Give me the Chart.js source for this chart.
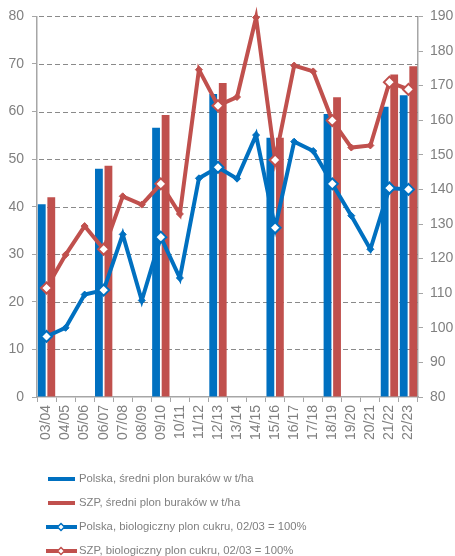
<!DOCTYPE html>
<html>
<head>
<meta charset="utf-8">
<script src="https://cdn.jsdelivr.net/npm/chart.js@4"></script>
<style>
  html, body { margin: 0; padding: 0; background: #fff; }
</style>
</head>
<body>
<canvas id="chart" width="455" height="556"></canvas>
<script>
// Seasons on the x-axis
const seasons = ["03/04", "04/05", "05/06", "06/07", "07/08", "08/09", "09/10", "10/11", "11/12", "12/13",
  "13/14", "14/15", "15/16", "16/17", "17/18", "18/19", "19/20", "20/21", "21/22", "22/23"];

// Average beet yield in t/ha (left axis), only some seasons shown
const polskaYield = [40.5, null, null, 48.0, null, null, 56.6, null, null, 63.7,
  null, null, 54.5, null, null, 59.5, null, null, 61.0, 63.4];
const szpYield = [42.0, null, null, 48.6, null, null, 59.3, null, null, 66.0,
  null, null, 54.5, null, null, 63.0, null, null, 67.8, 69.5];

// Biological sugar yield, 02/03 = 100% (right axis)
const polskaSugar = [97.5, 100.0, 109.6, 110.9, 127.0, 107.9, 126.2, 114.4, 143.2, 146.4,
  143.1, 155.7, 128.9, 153.8, 151.1, 141.6, 132.4, 122.7, 140.4, 140.0];
const szpSugar = [111.5, 121.1, 129.4, 122.7, 138.0, 135.6, 141.6, 132.9, 174.6, 164.2,
  166.7, 189.7, 148.5, 175.8, 174.1, 159.9, 152.1, 152.7, 171.0, 168.9];

const leftTicks = { min: 0, max: 80, step: 10 };
const rightTicks = { min: 80, max: 190, step: 10 };

const BLUE = '#0070C0';
const RED = '#C0504D';
const GREY_TXT = '#808080';
const AXIS = '#a6a6a6';
const FONT = '"Liberation Sans", Arial, sans-serif';

// hollow diamonds where a bar is shown, small filled ones elsewhere
const hollow = polskaYield.map(v => v !== null);
function pointOpts(color) {
  return {
    pointStyle: 'rectRot',
    pointRadius: hollow.map(h => h ? 5.5 : 3.5),
    pointBackgroundColor: hollow.map(h => h ? '#ffffff' : color),
    pointBorderColor: color,
    pointBorderWidth: hollow.map(h => h ? 2 : 1)
  };
}

// dashed horizontal grid lines at the left axis ticks (dashes drawn one by one)
const dashedGrid = {
  id: 'dashedGrid',
  beforeDatasetsDraw(chart) {
    const { ctx, chartArea } = chart;
    const scale = chart.scales.y;
    ctx.save();
    ctx.fillStyle = '#8a8a8a';
    scale.ticks.forEach(t => {
      const y = Math.round(scale.getPixelForValue(t.value));
      if (t.value === leftTicks.min) return;
      for (let x = chartArea.left + 2; x < chartArea.right; x += 8) {
        ctx.fillRect(x, y, Math.min(5, chartArea.right - x), 1);
      }
    });
    ctx.restore();
  }
};

// legend stacked one item per line under the chart
const stackLegend = {
  id: 'stackLegend',
  afterDraw(chart) {
    const ctx = chart.ctx;
    const rows = [479, 503, 527, 551];
    ctx.save();
    ctx.font = '11.3px ' + FONT;
    ctx.textBaseline = 'middle';
    ctx.textAlign = 'left';
    chart.data.datasets.forEach((ds, i) => {
      const y = rows[i];
      ctx.lineWidth = 4;
      if (ds.type === 'line') {
        ctx.strokeStyle = ds.borderColor;
        ctx.beginPath();
        ctx.moveTo(46, y);
        ctx.lineTo(77, y);
        ctx.stroke();
        ctx.lineWidth = 1.5;
        ctx.fillStyle = '#fff';
        ctx.beginPath();
        ctx.moveTo(61, y - 3.5);
        ctx.lineTo(64.5, y);
        ctx.lineTo(61, y + 3.5);
        ctx.lineTo(57.5, y);
        ctx.closePath();
        ctx.fill();
        ctx.stroke();
      } else {
        ctx.strokeStyle = ds.backgroundColor;
        ctx.beginPath();
        ctx.moveTo(48, y);
        ctx.lineTo(75, y);
        ctx.stroke();
      }
      ctx.fillStyle = GREY_TXT;
      ctx.fillText(ds.label, 79, y);
    });
    ctx.restore();
  }
};

const ctx = document.getElementById('chart').getContext('2d');
new Chart(ctx, {
  data: {
    labels: seasons,
    datasets: [
      {
        type: 'bar',
        label: 'Polska, średni plon buraków w t/ha',
        data: polskaYield,
        backgroundColor: BLUE,
        yAxisID: 'y',
        order: 2,
        barPercentage: 0.82,
        categoryPercentage: 1.0
      },
      {
        type: 'bar',
        label: 'SZP, średni plon buraków w t/ha',
        data: szpYield,
        backgroundColor: RED,
        yAxisID: 'y',
        order: 2,
        barPercentage: 0.82,
        categoryPercentage: 1.0
      },
      Object.assign({
        type: 'line',
        label: 'Polska, biologiczny plon cukru, 02/03 = 100%',
        data: polskaSugar,
        borderColor: BLUE,
        borderWidth: 4,
        tension: 0,
        yAxisID: 'y1',
        order: 0,
        clip: false
      }, pointOpts(BLUE)),
      Object.assign({
        type: 'line',
        label: 'SZP, biologiczny plon cukru, 02/03 = 100%',
        data: szpSugar,
        borderColor: RED,
        borderWidth: 4,
        tension: 0,
        yAxisID: 'y1',
        order: 1,
        clip: false
      }, pointOpts(RED))
    ]
  },
  options: {
    responsive: false,
    animation: false,
    devicePixelRatio: 1,
    layout: { padding: { top: 14, right: 0, bottom: 114, left: 0 } },
    plugins: {
      legend: { display: false },
      tooltip: { enabled: false }
    },
    scales: {
      x: {
        grid: { display: true, drawOnChartArea: false, tickLength: 5, color: AXIS, offset: true },
        border: { color: AXIS, width: 1.5 },
        ticks: { minRotation: 90, maxRotation: 90, autoSkip: false, color: GREY_TXT, padding: 3,
          font: { size: 14, family: FONT } },
        afterFit: s => { s.height = 45; }
      },
      y: {
        position: 'left',
        min: leftTicks.min,
        max: leftTicks.max,
        ticks: { stepSize: leftTicks.step, color: GREY_TXT, padding: 8, font: { size: 14, family: FONT } },
        grid: { drawOnChartArea: false, tickLength: 5, color: AXIS },
        border: { color: AXIS, width: 1.5 },
        afterFit: s => { s.width = 37; }
      },
      y1: {
        position: 'right',
        min: rightTicks.min,
        max: rightTicks.max,
        ticks: { stepSize: rightTicks.step, color: GREY_TXT, padding: 7, font: { size: 14, family: FONT } },
        grid: { drawOnChartArea: false, tickLength: 5, color: AXIS },
        border: { color: AXIS, width: 1.5 },
        afterFit: s => { s.width = 37; }
      }
    }
  },
  plugins: [dashedGrid, stackLegend]
});
</script>
</body>
</html>
